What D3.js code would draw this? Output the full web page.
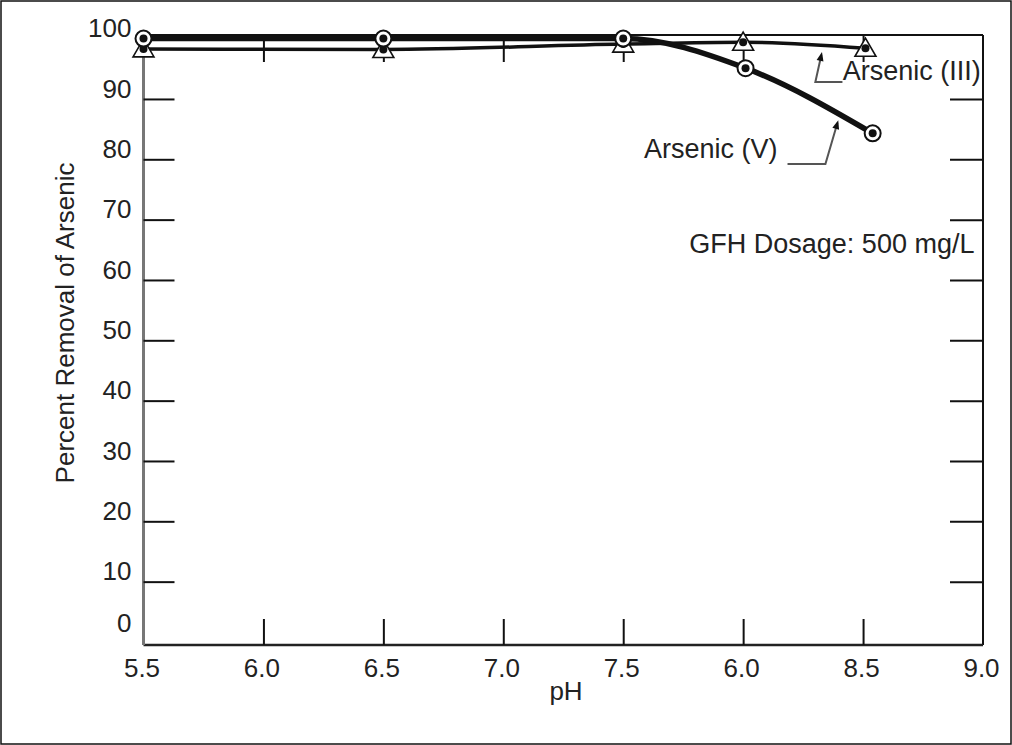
<!DOCTYPE html>
<html>
<head>
<meta charset="utf-8">
<script src="https://cdn.jsdelivr.net/npm/d3@7"></script>
<style>
  html, body { margin: 0; padding: 0; background: #fff; }
  svg { display: block; }
  text { font-family: "Liberation Sans", Arial, sans-serif; fill: #222; }
</style>
</head>
<body>
<svg id="chart" width="1012" height="745"></svg>
<script>
// ---- data ----
const xTickValues = [5.5, 6.0, 6.5, 7.0, 7.5, 8.0, 8.5, 9.0];
const xTickLabels = ["5.5", "6.0", "6.5", "7.0", "7.5", "6.0", "8.5", "9.0"];
const yTickValues = [0, 10, 20, 30, 40, 50, 60, 70, 80, 90, 100];

const phV = [5.5, 6.5, 7.5, 8.01, 8.54];
const arsenicV = [100, 100, 100, 95.1, 84.3];

const phIII = [5.5, 6.5, 7.5, 8.0, 8.51];
const arsenicIII = [98.3, 98.2, 99.1, 99.4, 98.4];

const xTitle = "pH";
const yTitle = "Percent Removal of Arsenic";
const labelIII = "Arsenic (III)";
const labelV = "Arsenic (V)";
const noteText = "GFH Dosage: 500 mg/L";

// ---- layout ----
const svg = d3.select("#chart");
const W = 1012, H = 745;
const pL = 143.5, pR = 983, pT = 35, pB = 645;

const x = d3.scaleLinear().domain([5.5, 9.0]).range([pL, pR]);
const y = d3.scaleLinear().domain([-0.5, 100.6]).range([pB, pT]);

// outer border
svg.append("rect").attr("x", 1).attr("y", 1).attr("width", W - 2).attr("height", H - 2)
  .attr("fill", "none").attr("stroke", "#111").attr("stroke-width", 1.5);

// frame lines
svg.append("line").attr("x1", pL).attr("x2", pR).attr("y1", pT).attr("y2", pT)
  .attr("stroke", "#111").attr("stroke-width", 2);
svg.append("line").attr("x1", pR).attr("x2", pR).attr("y1", pT).attr("y2", pB)
  .attr("stroke", "#111").attr("stroke-width", 2);
svg.append("line").attr("x1", pL).attr("x2", pR).attr("y1", pB).attr("y2", pB)
  .attr("stroke", "#222").attr("stroke-width", 2.5);
svg.append("line").attr("x1", pL).attr("x2", pL).attr("y1", pT).attr("y2", pB)
  .attr("stroke", "#777").attr("stroke-width", 3);

// left axis (ticks inward, labels)
const yAxisL = d3.axisLeft(y).tickValues(yTickValues).tickSize(-31).tickSizeOuter(0).tickPadding(12);
const gL = svg.append("g").attr("transform", `translate(${pL},0)`).call(yAxisL);
gL.select(".domain").remove();
gL.selectAll(".tick line").attr("stroke", "#111").attr("stroke-width", 2)
  .attr("display", d => (d === 0 || d === 100) ? "none" : null);
gL.selectAll(".tick text").attr("font-size", 26).attr("font-family", "Liberation Sans, Arial, sans-serif")
  .attr("fill", "#222").attr("y", d => d === 0 ? -19 : -10);

// right axis (ticks inward, no labels)
const yAxisR = d3.axisRight(y).tickValues(yTickValues.filter(d => d > 0 && d < 100)).tickSize(-33).tickFormat("");
const gR = svg.append("g").attr("transform", `translate(${pR},0)`).call(yAxisR);
gR.select(".domain").remove();
gR.selectAll(".tick line").attr("stroke", "#111").attr("stroke-width", 2);

// bottom axis
const xAxisB = d3.axisBottom(x).tickValues(xTickValues).tickSize(-26).tickPadding(13.5)
  .tickFormat((d, i) => xTickLabels[i]);
const gB = svg.append("g").attr("transform", `translate(0,${pB})`).call(xAxisB);
gB.select(".domain").remove();
gB.selectAll(".tick line").attr("stroke", "#111").attr("stroke-width", 2)
  .attr("display", d => (d === 5.5 || d === 9.0) ? "none" : null);
gB.selectAll(".tick text").attr("font-size", 26).attr("font-family", "Liberation Sans, Arial, sans-serif")
  .attr("fill", "#222").attr("dx", -2);

// top axis ticks
const xAxisT = d3.axisTop(x).tickValues(xTickValues.filter(d => d > 5.5 && d < 9.0)).tickSize(-27).tickFormat("");
const gT = svg.append("g").attr("transform", `translate(0,${pT})`).call(xAxisT);
gT.select(".domain").remove();
gT.selectAll(".tick line").attr("stroke", "#111").attr("stroke-width", 2);

// axis titles
svg.append("text").attr("x", 566).attr("y", 700).attr("text-anchor", "middle")
  .attr("font-size", 26).text(xTitle);
svg.append("text").attr("transform", "translate(74,323) rotate(-90)").attr("text-anchor", "middle")
  .attr("font-size", 26).text(yTitle);

// series
const dataV = phV.map((p, i) => ({ x: p, y: arsenicV[i] }));
const dataIII = phIII.map((p, i) => ({ x: p, y: arsenicIII[i] }));

const line = d3.line().x(d => x(d.x)).y(d => y(d.y)).curve(d3.curveMonotoneX);

svg.append("path").datum(dataIII).attr("d", line).attr("fill", "none")
  .attr("stroke", "#111").attr("stroke-width", 3.5);
svg.append("path").datum(dataV).attr("d", line).attr("fill", "none")
  .attr("stroke", "#111").attr("stroke-width", 5.5);

// triangles (Arsenic III)
const tri = d3.symbol().type(d3.symbolTriangle).size(190);
const gTri = svg.append("g");
gTri.selectAll("path").data(dataIII).join("path")
  .attr("d", tri).attr("transform", d => `translate(${x(d.x)},${y(d.y) + 2})`)
  .attr("fill", "#fff").attr("stroke", "#111").attr("stroke-width", 1.6);
gTri.selectAll("circle").data(dataIII).join("circle")
  .attr("cx", d => x(d.x)).attr("cy", d => y(d.y)).attr("r", 4).attr("fill", "#111");

// circles (Arsenic V)
const gCir = svg.append("g");
gCir.selectAll("circle.o").data(dataV).join("circle").attr("class", "o")
  .attr("cx", d => x(d.x)).attr("cy", d => y(d.y)).attr("r", 8)
  .attr("fill", "#fff").attr("stroke", "#111").attr("stroke-width", 2);
gCir.selectAll("circle.i").data(dataV).join("circle").attr("class", "i")
  .attr("cx", d => x(d.x)).attr("cy", d => y(d.y)).attr("r", 4).attr("fill", "#111");

// annotations (data coordinates)
const leaderIII = [[8.414, 92.8], [8.301, 92.8], [8.326, 97.3]];
const leaderV = [[8.185, 79.2], [8.343, 79.2], [8.393, 86.0]];
const leaderLine = d3.line().x(d => x(d[0])).y(d => y(d[1]));

[leaderIII, leaderV].forEach(pts => {
  svg.append("path").attr("d", leaderLine(pts)).attr("fill", "none")
    .attr("stroke", "#555").attr("stroke-width", 2);
  const tip = pts[pts.length - 1], prev = pts[pts.length - 2];
  const ang = Math.atan2(y(tip[1]) - y(prev[1]), x(tip[0]) - x(prev[0])) * 180 / Math.PI;
  svg.append("path").attr("d", "M3,0 L-6,-3.5 L-6,3.5 Z")
    .attr("transform", `translate(${x(tip[0])},${y(tip[1])}) rotate(${ang})`)
    .attr("fill", "#111");
});

svg.append("text").attr("x", x(8.415)).attr("y", y(93.1)).attr("font-size", 27).text(labelIII);
svg.append("text").attr("x", x(7.865)).attr("y", y(80.2)).attr("text-anchor", "middle")
  .attr("font-size", 27).text(labelV);
svg.append("text").attr("x", x(8.37)).attr("y", y(64.5)).attr("text-anchor", "middle")
  .attr("font-size", 27).text(noteText);
</script>
</body>
</html>
